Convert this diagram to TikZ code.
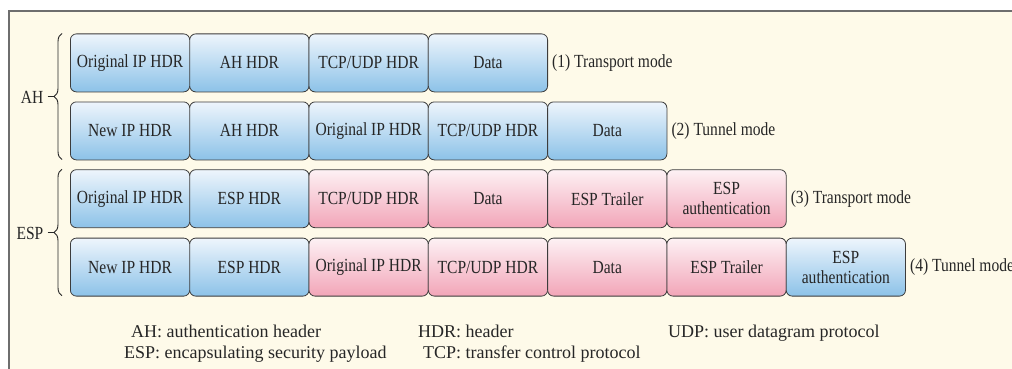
\documentclass[tikz,border=0pt]{standalone}
\usepackage{fontspec}
\setmainfont{Liberation Serif}
\newfontfamily\condfont{Liberation Serif}[FakeStretch=0.84]
\usetikzlibrary{decorations.pathreplacing}

\definecolor{cream}{HTML}{FEFAE9}
\definecolor{framegray}{HTML}{6E6E6E}
\definecolor{boxline}{HTML}{3C3C3C}
\definecolor{txt}{HTML}{262626}
\definecolor{bluetop}{HTML}{EEF5FC}
\definecolor{bluebot}{HTML}{8CC2E8}
\definecolor{pinktop}{HTML}{FDF1F4}
\definecolor{pinkbot}{HTML}{F2A5B8}

\tikzset{
  pkt/.style={draw=boxline, line width=0.8pt, rounded corners=6pt,
    minimum width=119.3pt, minimum height=58pt, inner sep=0pt,
    anchor=north west, text=txt, align=center,
    font=\condfont\fontsize{18.5}{20}\selectfont},
  ipblue/.style={pkt, top color=bluetop, bottom color=bluebot},
  ippink/.style={pkt, top color=pinktop, bottom color=pinkbot},
  modelabel/.style={anchor=west, inner sep=0pt, text=txt,
    font=\condfont\fontsize{18.5}{20}\selectfont},
  grouplabel/.style={anchor=east, inner sep=0pt, text=txt,
    font=\condfont\fontsize{18.5}{20}\selectfont},
  groupbrace/.style={draw=txt, line width=0.9pt,
    decorate, decoration={brace, amplitude=8pt}},
  legend/.style={anchor=base west, inner sep=0pt, text=txt,
    font=\fontsize{18}{20}\selectfont}
}

\begin{document}
\begin{tikzpicture}[x=1pt, y=-1pt]
\useasboundingbox (0,0) rectangle (1012,369);

% panel background and frame
\fill[cream] (9,11) rectangle (1016,372);
\draw[framegray, line width=1.6pt] (9,372) -- (9,11) -- (1016,11);

% (1) AH transport mode
\node[ipblue] (a1) at (70,33.5)    {Original IP HDR};
\node[ipblue] (a2) at (189.3,33.5) {AH HDR};
\node[ipblue] (a3) at (308.6,33.5) {TCP/UDP HDR};
\node[ipblue] (a4) at (427.9,33.5) {Data};
\node[modelabel] (m1) at ([xshift=4pt]a4.east) {(1) Transport mode};

% (2) AH tunnel mode
\node[ipblue] (b1) at (70,101.5)    {New IP HDR};
\node[ipblue] (b2) at (189.3,101.5) {AH HDR};
\node[ipblue] (b3) at (308.6,101.5) {Original IP HDR};
\node[ipblue] (b4) at (427.9,101.5) {TCP/UDP HDR};
\node[ipblue] (b5) at (547.2,101.5) {Data};
\node[modelabel] (m2) at ([xshift=4pt]b5.east) {(2) Tunnel mode};

% (3) ESP transport mode
\node[ipblue] (c1) at (70,169.3)    {Original IP HDR};
\node[ipblue] (c2) at (189.3,169.3) {ESP HDR};
\node[ippink] (c3) at (308.6,169.3) {TCP/UDP HDR};
\node[ippink] (c4) at (427.9,169.3) {Data};
\node[ippink] (c5) at (547.2,169.3) {ESP Trailer};
\node[ippink] (c6) at (666.5,169.3) {ESP\\authentication};
\node[modelabel] (m3) at ([xshift=4pt]c6.east) {(3) Transport mode};

% (4) ESP tunnel mode
\node[ipblue] (d1) at (70,237.7)    {New IP HDR};
\node[ipblue] (d2) at (189.3,237.7) {ESP HDR};
\node[ippink] (d3) at (308.6,237.7) {Original IP HDR};
\node[ippink] (d4) at (427.9,237.7) {TCP/UDP HDR};
\node[ippink] (d5) at (547.2,237.7) {Data};
\node[ippink] (d6) at (666.5,237.7) {ESP Trailer};
\node[ipblue] (d7) at (785.8,237.7) {ESP\\authentication};
\node[modelabel] (m4) at ([xshift=4pt]d7.east) {(4) Tunnel mode};

% group braces with their labels
\draw[groupbrace] (62,159.5) -- (62,33.5);
\coordinate (ahtip) at (54,96.5);
\coordinate (ahdash) at (47.5,96.5);
\node[grouplabel] (ah) at (43.5,97.5) {AH};
\draw[txt, line width=0.9pt] (ahdash) -- (ahtip);

\draw[groupbrace] (62,295.7) -- (62,169.3);
\coordinate (esptip) at (54,232.5);
\coordinate (espdash) at (47.5,232.5);
\node[grouplabel] (esp) at (43.5,233.5) {ESP};
\draw[txt, line width=0.9pt] (espdash) -- (esptip);

% abbreviations
\node[legend] (l1) at (131,337)   {AH: authentication header};
\node[legend] (l2) at (124,358.5) {ESP: encapsulating security payload};
\node[legend] (l3) at (418,337)   {HDR: header};
\node[legend] (l4) at (423,358.5) {TCP: transfer control protocol};
\node[legend] (l5) at (668,337)   {UDP: user datagram protocol};
\end{tikzpicture}
\end{document}
